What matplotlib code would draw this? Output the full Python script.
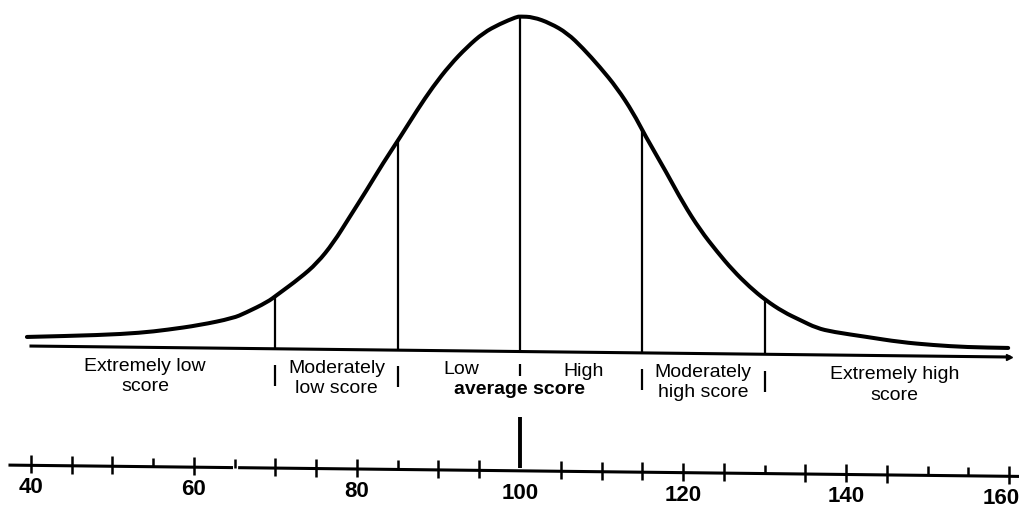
import numpy as np
import matplotlib
matplotlib.use('Agg')
import matplotlib.pyplot as plt
from matplotlib.transforms import Affine2D
from matplotlib.path import Path
from matplotlib.patches import PathPatch

# ---------------- data ----------------
curve_scores = [39.5, 48.5, 53.4, 56.7, 60.7, 64.8, 66.3, 69.0, 70.2, 73.0, 75.1, 77.1, 79.1,
                81.2, 83.2, 85.3, 87.4, 89.3, 91.4, 93.5, 95.5, 97.5, 99.6, 100,
                101.6, 103.7, 105.8, 107.7, 109.8, 111.9, 113.9, 115.3, 118.0, 120.0, 122.1,
                124.2, 126.1, 128.2, 130.1, 132.3, 134.4, 136.4, 138.4, 142.6, 146.6, 150.7,
                154.8, 159.9]
curve_heights = [2.7, 3.5, 4.3, 5.3, 6.8, 9.0, 10.6, 13.9, 16.1, 21.2, 25.7, 31.8, 39.6,
                 47.7, 55.8, 63.6, 71.8, 78.7, 85.3, 90.7, 95.0, 97.7, 99.9, 100,
                 99.9, 98.1, 95.2, 90.8, 85.2, 79.0, 71.6, 65.1, 53.8, 44.9, 36.9,
                 30.4, 25.0, 20.0, 16.2, 12.7, 10.3, 8.0, 6.9, 5.5, 4.1, 3.3,
                 2.8, 2.7]

boundaries = [70, 85, 100, 115, 130]
mean_score = 100

full_ticks = [40, 45, 50, 60, 70, 75, 80, 90, 95, 105, 110, 115, 120, 125, 135, 140, 145, 160]
half_ticks = [55, 65, 85, 130, 150, 155]
tick_labels = [40, 60, 80, 100, 120, 140, 160]

band_labels = [  # (score centre, line 1, line 2)
    (54, "Extremely low", "score"),
    (77.5, "Moderately", "low score"),
    (122.5, "Moderately", "high score"),
    (146, "Extremely high", "score"),
]
avg_low, avg_high, avg_text = "Low", "High", "average score"

# ---------------- layout ----------------
W, H, DPI = 10.2, 5.08, 100
PXX = 8.15          # pixels per score unit
PXY = 3.35          # pixels per height unit
R0 = 345.7          # pixel row of height 0 (before tilt)


def yrow(r):
    return (R0 - r) / PXY


fig = plt.figure(figsize=(W, H), dpi=DPI)
ax = fig.add_axes([0, 0, 1, 1])
ax.set_xlim(100 - 520 / PXX, 100 + 500 / PXX)
ax.set_ylim(yrow(H * DPI), yrow(0))
ax.axis('off')

# slight tilt of the scanned original
tr = ax.transData + Affine2D().skew(0, -np.arctan(0.0112))

txt_font = ['Liberation Sans', 'DejaVu Sans']
num_font = ['Liberation Sans', 'DejaVu Sans']

# curve drawn as a smooth quadratic path through the read points
pts = np.column_stack([curve_scores, curve_heights])
verts = [pts[0], (pts[0] + pts[1]) / 2]
codes = [Path.MOVETO, Path.LINETO]
for i in range(1, len(pts) - 1):
    verts += [pts[i], (pts[i] + pts[i + 1]) / 2]
    codes += [Path.CURVE3, Path.CURVE3]
verts.append(pts[-1])
codes.append(Path.LINETO)
ax.add_patch(PathPatch(Path(verts, codes), fill=False, edgecolor='black', lw=2.9,
                       capstyle='round', joinstyle='round', transform=tr, clip_on=False))

# baseline with small arrow
lo, hi = min(full_ticks), max(full_ticks)
ax.plot([lo, hi], [0, 0], color='black', lw=2.2, transform=tr, clip_on=False)
ax.plot([hi], [0], marker='>', ms=5, color='black', transform=tr, clip_on=False)

# vertical lines up to the curve
tops = np.interp(boundaries, curve_scores, curve_heights)
ax.vlines(boundaries, 0, tops, color='black', lw=1.6, transform=tr)

# short separators below the baseline
for b in boundaries:
    if b == mean_score:
        ax.vlines(b, yrow(358), yrow(370), color='black', lw=1.6, transform=tr)
    else:
        ax.vlines(b, yrow(362), yrow(383), color='black', lw=1.6, transform=tr)

# band labels
L1, L2 = 369, 389.5
for sc, t1, t2 in band_labels:
    ax.text(sc, yrow(L1), t1, ha='center', va='baseline', fontsize=14,
            family=txt_font, transform=tr)
    ax.text(sc, yrow(L2), t2, ha='center', va='baseline', fontsize=14,
            family=txt_font, transform=tr)
ax.text(92.8, yrow(L1), avg_low, ha='center', va='baseline', fontsize=14,
        family=txt_font, transform=tr)
ax.text(107.8, yrow(L1), avg_high, ha='center', va='baseline', fontsize=14,
        family=txt_font, transform=tr)
ax.text(mean_score, yrow(L2 - 1), avg_text, ha='center', va='baseline', fontsize=14,
        fontweight='bold', family=txt_font, transform=tr)

# score scale
SROW = 465
sy = yrow(SROW)
left_end = 100 - 510 / PXX
right_end = 100 + 500 / PXX
ax.plot([left_end, 64.6], [sy, sy], color='black', lw=2.2, transform=tr, clip_on=False)
ax.plot([65.6, right_end], [sy, sy], color='black', lw=2.2, transform=tr, clip_on=False)
ax.vlines(full_ticks, yrow(SROW - 10), yrow(SROW + 8), color='black', lw=1.8, transform=tr)
ax.vlines(half_ticks, yrow(SROW - 9), sy, color='black', lw=1.8, transform=tr)
ax.vlines(mean_score, yrow(411), yrow(462), color='black', lw=2.8, transform=tr)
for v in tick_labels:
    if v == max(tick_labels):
        ax.text(v + 1.3, yrow(493), str(v), ha='right', va='baseline', fontsize=16,
                fontweight='bold', family=num_font, transform=tr)
    else:
        ax.text(v, yrow(493), str(v), ha='center', va='baseline', fontsize=16,
                fontweight='bold', family=num_font, transform=tr)

fig.savefig('out.png', dpi=DPI)
